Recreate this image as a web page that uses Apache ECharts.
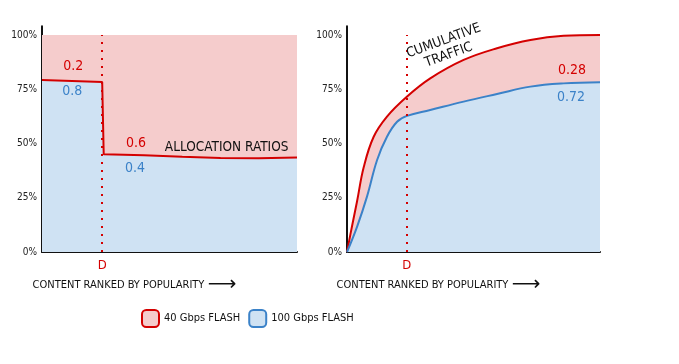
<!DOCTYPE html>
<html>
<head>
<meta charset="utf-8">
<script src="https://cdn.jsdelivr.net/npm/echarts@6/dist/echarts.min.js"></script>
<style>html,body{margin:0;padding:0;background:#fff;}#c{width:679px;height:364px;}</style>
</head>
<body>
<div id="c"></div>
<script>
// ---- data ----
var yTicks = [0, 25, 50, 75, 100];
var dPosition = 0.236;              // "D" marker on the popularity axis (fraction)
// left panel: share of the 100 Gbps flash (red line = boundary)
var allocationRatio = [[0, 79.3], [0.236, 78.3], [0.242, 45.0], [0.4, 44.6], [0.55, 43.9], [0.7, 43.3], [0.85, 43.2], [1, 43.6]];
var fullShare = [[0, 100], [1, 100]];
// right panel: cumulative traffic
var totalTraffic = [[0, 0], [0.02, 12], [0.04, 23.5], [0.066, 39], [0.105, 53], [0.158, 62.4], [0.237, 71.6], [0.329, 80], [0.461, 88.5], [0.593, 93.9], [0.725, 97.7], [0.856, 99.6], [1, 100]];
var flashTraffic = [[0, 0], [0.04, 11.7], [0.079, 25.5], [0.119, 42.4], [0.158, 53.1], [0.198, 60], [0.237, 62.7], [0.329, 65.4], [0.461, 69.3], [0.593, 72.8], [0.725, 76.2], [0.856, 77.7], [1, 78.2]];
var seriesNames = ['40 Gbps FLASH', '100 Gbps FLASH'];
var axisTitle = 'CONTENT RANKED BY POPULARITY';
var leftNotes = [
  {text: '0.2', at: [0.123, 85.4], c: 'red'},
  {text: '0.8', at: [0.119, 73.9], c: 'blue'},
  {text: '0.6', at: [0.369, 50.1], c: 'red'},
  {text: 'ALLOCATION RATIOS', at: [0.724, 48.2], c: 'black'},
  {text: '0.4', at: [0.365, 38.6], c: 'blue'}
];
var rightNotes = [
  {text: 'CUMULATIVE\nTRAFFIC', at: [0.392, 94], c: 'black', rot: 20},
  {text: '0.28', at: [0.889, 83.9], c: 'red'},
  {text: '0.72', at: [0.885, 71.3], c: 'blue'}
];
// ---------------------------------------
var RED = '#d40000', BLUE = '#3b82c8', PINK = '#f5cccc', LBLUE = '#cfe2f3', INK = '#111';
var FONT = '"DejaVu Sans Condensed", "Liberation Sans", sans-serif';
var colorOf = {red: RED, blue: BLUE, black: INK};

function notes(list) {
  return {
    symbol: 'circle', symbolSize: 1, silent: true,
    itemStyle: {color: 'rgba(0,0,0,0)'},
    data: list.map(function (n) {
      return {
        coord: n.at,
        label: {show: true, position: 'inside', formatter: n.text, color: colorOf[n.c],
          fontFamily: FONT, fontSize: n.c === 'black' ? 13.5 : 14, rotate: n.rot || 0, lineHeight: 15}
      };
    })
  };
}
function dLine() {
  return {
    silent: true, symbol: ['none', 'none'],
    lineStyle: {color: RED, width: 2, type: [2, 6]},
    label: {show: true, position: 'start', formatter: 'D', color: RED, fontFamily: FONT, fontSize: 13, distance: 7},
    data: [[{coord: [dPosition, 0]}, {coord: [dPosition, 100]}]]
  };
}
function xAx(i, pad) {
  return {
    type: 'value', gridIndex: i, min: 0, max: 1,
    axisLine: {show: true, lineStyle: {color: INK, width: 2}},
    axisTick: {show: false}, axisLabel: {show: false}, splitLine: {show: false},
    name: '{t|' + axisTitle + '} {a|⟶}', nameLocation: 'middle', nameGap: 23,
    nameTextStyle: {padding: [0, pad, 0, 0],
      rich: {t: {fontFamily: FONT, fontSize: 11, color: INK}, a: {fontFamily: 'DejaVu Sans', fontSize: 20, color: INK}}}
  };
}
function yAx(i) {
  return {
    type: 'value', gridIndex: i, min: 0, max: 104, interval: 25,
    axisLine: {show: true, lineStyle: {color: INK, width: 2}},
    axisTick: {show: false}, splitLine: {show: false},
    axisLabel: {color: '#222', fontFamily: FONT, fontSize: 10, margin: 5,
      formatter: function (v) { return yTicks.indexOf(v) >= 0 ? v + '%' : ''; }}
  };
}
var chart = echarts.init(document.getElementById('c'), null, {renderer: 'canvas'});
chart.setOption({
  animation: false,
  grid: [
    {left: 42, right: 382, top: 26.3, bottom: 112},
    {left: 347, right: 79, top: 26.3, bottom: 112}
  ],
  xAxis: [xAx(0, 70), xAx(1, 70)],
  yAxis: [yAx(0), yAx(1)],
  legend: {
    left: 141, top: 309, padding: 0, itemWidth: 17, itemHeight: 17, itemGap: 8, icon: 'roundRect',
    textStyle: {fontFamily: FONT, fontSize: 11, color: INK},
    data: [
      {name: seriesNames[0], itemStyle: {color: PINK, borderColor: RED, borderWidth: 2}},
      {name: seriesNames[1], itemStyle: {color: LBLUE, borderColor: BLUE, borderWidth: 2}}
    ],
    selectedMode: false
  },
  series: [
    {name: seriesNames[0], type: 'line', xAxisIndex: 0, yAxisIndex: 0, data: fullShare, symbol: 'none',
      lineStyle: {width: 0}, areaStyle: {color: PINK, opacity: 1}, z: 1, silent: true},
    {name: seriesNames[1], type: 'line', xAxisIndex: 0, yAxisIndex: 0, data: allocationRatio, symbol: 'none',
      lineStyle: {color: RED, width: 2}, areaStyle: {color: LBLUE, opacity: 1}, z: 2, silent: true,
      markLine: dLine(), markPoint: notes(leftNotes)},
    {name: seriesNames[0], type: 'line', xAxisIndex: 1, yAxisIndex: 1, data: totalTraffic, symbol: 'none',
      smooth: 0.4,
      lineStyle: {color: RED, width: 2}, areaStyle: {color: PINK, opacity: 1}, z: 1, silent: true},
    {name: seriesNames[1], type: 'line', xAxisIndex: 1, yAxisIndex: 1, data: flashTraffic, symbol: 'none',
      smooth: 0.4,
      lineStyle: {color: BLUE, width: 2}, areaStyle: {color: LBLUE, opacity: 1}, z: 2, silent: true,
      markLine: dLine(), markPoint: notes(rightNotes)}
  ]
});
</script>
</body>
</html>
